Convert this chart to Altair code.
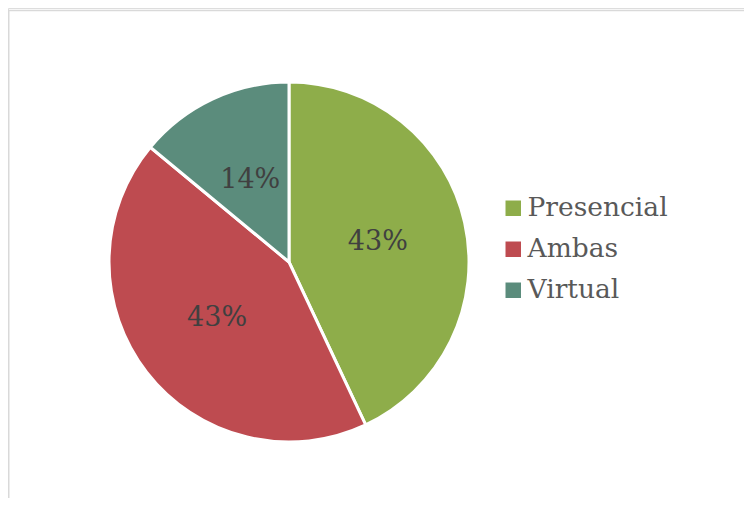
import altair as alt
import pandas as pd

categories = ["Presencial", "Ambas", "Virtual"]
shares = [43, 43, 14]
labels = ["43%", "43%", "14%"]
colors = ["#8EAD4A", "#BE4B50", "#5B8C7C"]
order = [1, 2, 3]

df = pd.DataFrame({"cat": categories, "share": shares, "label": labels, "ord": order})

W, H = 736, 490
CX, CY = 281, 254
R = 180
FONT = "DejaVu Serif"

color_scale = alt.Scale(domain=categories, range=colors)

base = alt.Chart(df).encode(
    theta=alt.Theta("share:Q", stack=True),
    order=alt.Order("ord:Q"),
)

pie = base.mark_arc(outerRadius=R, stroke="white", strokeWidth=3).encode(
    x=alt.value(CX),
    y=alt.value(CY),
    color=alt.Color(
        "cat:N",
        scale=color_scale,
        sort=categories,
        legend=alt.Legend(
            title=None,
            orient="none",
            legendX=492,
            legendY=187,
            symbolType="square",
            symbolSize=240,
            symbolStrokeWidth=0,
            labelFont=FONT,
            labelFontSize=26.5,
            labelColor="#595959",
            labelOffset=1,
            rowPadding=14,
        ),
    ),
)

text = base.mark_text(
    radius=91, font=FONT, fontSize=27, color="#404040"
).encode(
    x=alt.value(CX),
    y=alt.value(CY),
    text="label:N",
)

frame_df = pd.DataFrame({"a": [0]})
top_line = alt.Chart(frame_df).mark_rule(color="#d9d9d9", strokeWidth=1.5).encode(
    x=alt.value(0), x2=alt.value(W), y=alt.value(2.5)
)
left_line = alt.Chart(frame_df).mark_rule(color="#d9d9d9", strokeWidth=1.5).encode(
    x=alt.value(0.75), y=alt.value(2), y2=alt.value(H)
)

chart = alt.layer(pie, text, top_line, left_line).properties(
    width=W, height=H, autosize=alt.AutoSizeParams(type="none"), padding=0
).configure_view(stroke=None).configure(background="white")

chart.save("out.html", embed_options={"renderer": "svg", "actions": False})
